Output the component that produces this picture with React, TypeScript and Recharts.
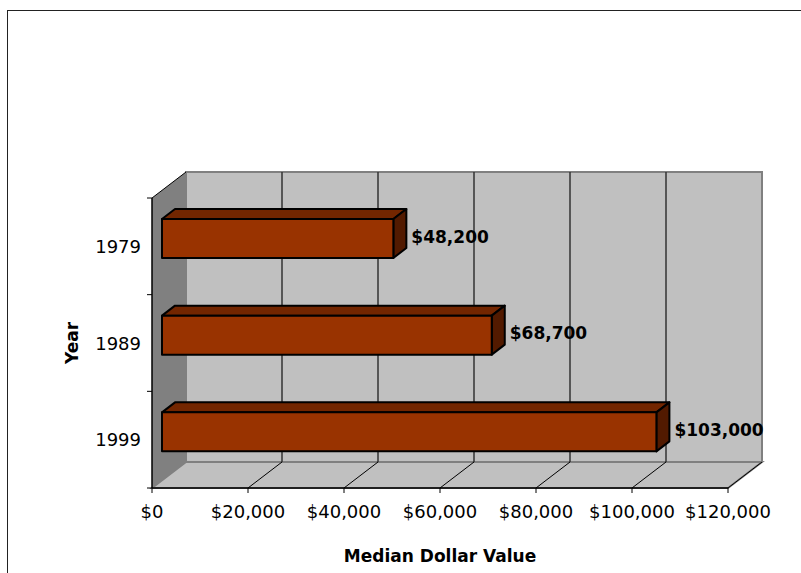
import React from "react";
import {
  BarChart,
  Bar,
  XAxis,
  YAxis,
  CartesianGrid,
  LabelList,
} from "recharts";

const years = ["1979", "1989", "1999"];
const medianValues = [48200, 68700, 103000];
const xTicks = [0, 20000, 40000, 60000, 80000, 100000, 120000];

const data = years.map((year, i) => ({ year, value: medianValues[i] }));

// depth of the 3D walls and of the boxes
const WALL_DX = 34;
const WALL_DY = 26;
const BAR_OX = 10;
const BAR_OY = -8;
const BAR_DX = 13;
const BAR_DY = -10;
const Y_TICK_SIZE = 5;
const Y_TICK_MARGIN = 6;

const FONT = "'DejaVu Sans', sans-serif";
const money = (v: number) => "$" + v.toLocaleString("en-US");

// walls are drawn with the first grid line, then every line on top of them
const GridLine = (props: any) => {
  const { x1, y1, y2, index, x, y, width, height } = props;
  const last = index === xTicks.length - 1;
  const r = x + width;
  const b = y + height;
  return (
    <g>
      {index === 0 && (
        <g>
          <rect
            x={x + WALL_DX}
            y={y - WALL_DY}
            width={width}
            height={height}
            fill="#c0c0c0"
            stroke="#808080"
            strokeWidth={2}
          />
          <polygon
            points={`${x},${b} ${x + WALL_DX},${b - WALL_DY} ${r + WALL_DX},${b - WALL_DY} ${r},${b}`}
            fill="#c0c0c0"
            stroke="#808080"
            strokeWidth={2}
          />
          <polygon
            points={`${x},${y} ${x + WALL_DX},${y - WALL_DY} ${x + WALL_DX},${b - WALL_DY} ${x},${b}`}
            fill="#808080"
          />
          <line x1={x} y1={y} x2={x + WALL_DX} y2={y - WALL_DY} stroke="#000" strokeWidth={1} />
        </g>
      )}
      {index > 0 && !last && (
        <line
          x1={x1 + WALL_DX}
          y1={y1 - WALL_DY}
          x2={x1 + WALL_DX}
          y2={y2 - WALL_DY}
          stroke="#333"
          strokeWidth={1.5}
        />
      )}
      {index > 0 && (
        <line x1={x1} y1={y2} x2={x1 + WALL_DX} y2={y2 - WALL_DY} stroke="#000" strokeWidth={1} />
      )}
    </g>
  );
};

// year label, with tick marks on the band edges instead of the band centre
const YearTick = (props: any) => {
  const { x, y, payload, index, visibleTicksCount } = props;
  const half = payload && payload.offset ? payload.offset : 0;
  const ax = x + Y_TICK_MARGIN + Y_TICK_SIZE;
  return (
    <g>
      <line x1={ax - Y_TICK_SIZE} y1={y - half} x2={ax} y2={y - half} stroke="#000" />
      {index === visibleTicksCount - 1 && (
        <line x1={ax - Y_TICK_SIZE} y1={y + half} x2={ax} y2={y + half} stroke="#000" />
      )}
      <text
        x={x}
        y={y}
        textAnchor="end"
        dominantBaseline="central"
        fontFamily={FONT}
        fontSize={18}
        fill="#000"
      >
        {payload.value}
      </text>
    </g>
  );
};

const Box = (props: any) => {
  const { x, y, width, height } = props;
  const fx = x + BAR_OX;
  const fy = y + BAR_OY;
  const r = fx + width;
  return (
    <g stroke="#000" strokeWidth={2} strokeLinejoin="round">
      <polygon
        points={`${fx},${fy} ${fx + BAR_DX},${fy + BAR_DY} ${r + BAR_DX},${fy + BAR_DY} ${r},${fy}`}
        fill="#732600"
      />
      <polygon
        points={`${r},${fy} ${r + BAR_DX},${fy + BAR_DY} ${r + BAR_DX},${fy + height + BAR_DY} ${r},${fy + height}`}
        fill="#521a00"
      />
      <rect x={fx} y={fy} width={width} height={height} fill="#993300" />
    </g>
  );
};

const ValueLabel = (props: any) => {
  const { x, y, width, height, value } = props;
  return (
    <text
      x={x + BAR_OX + width + BAR_DX + 5}
      y={y + BAR_OY + height / 2 - 2}
      dominantBaseline="central"
      fontFamily={FONT}
      fontWeight="bold"
      fontSize={17}
      fill="#000"
    >
      {money(value)}
    </text>
  );
};

const YearTitle = (props: any) => {
  const { x, y, height } = props.viewBox;
  const cx = x + 20;
  const cy = y + height / 2;
  return (
    <text
      x={cx}
      y={cy}
      transform={`rotate(-90, ${cx}, ${cy})`}
      textAnchor="middle"
      dominantBaseline="central"
      fontFamily={FONT}
      fontWeight="bold"
      fontSize={17}
      fill="#000"
    >
      Year
    </text>
  );
};

export default function App() {
  return (
    <div
      style={{
        position: "absolute",
        left: 0,
        top: 0,
        width: 801,
        height: 573,
        background: "#fff",
        overflow: "hidden",
      }}
    >
      <div
        style={{
          position: "absolute",
          left: 7,
          top: 10,
          width: 800,
          height: 570,
          borderTop: "1.5px solid #222",
          borderLeft: "1.5px solid #222",
        }}
      />
      <BarChart
        width={801}
        height={573}
        data={data}
        layout="vertical"
        margin={{ top: 198, right: 73, bottom: 0, left: 52 }}
        style={{ position: "absolute", left: 0, top: 0 }}
      >
        <CartesianGrid horizontal={false} vertical={GridLine} />
        <XAxis
          type="number"
          domain={[0, 120000]}
          ticks={xTicks}
          tickFormatter={money}
          interval={0}
          height={85}
          tickSize={5}
          tickMargin={12}
          axisLine={{ stroke: "#000", strokeWidth: 1.5 }}
          tickLine={{ stroke: "#000" }}
          tick={{ fill: "#000", fontFamily: FONT, fontSize: 18 }}
          label={{
            value: "Median Dollar Value",
            position: "insideBottom",
            offset: 11,
            fill: "#000",
            fontFamily: FONT,
            fontWeight: "bold",
            fontSize: 17,
          }}
        />
        <YAxis
          type="category"
          dataKey="year"
          width={100}
          tickLine={false}
          axisLine={{ stroke: "#000", strokeWidth: 1.5 }}
          tickSize={Y_TICK_SIZE}
          tickMargin={Y_TICK_MARGIN}
          tick={<YearTick />}
          label={{ content: YearTitle }}
        />
        <Bar
          dataKey="value"
          barSize={39}
          shape={<Box />}
          isAnimationActive={false}
        >
          <LabelList dataKey="value" content={ValueLabel} />
        </Bar>
      </BarChart>
    </div>
  );
}
